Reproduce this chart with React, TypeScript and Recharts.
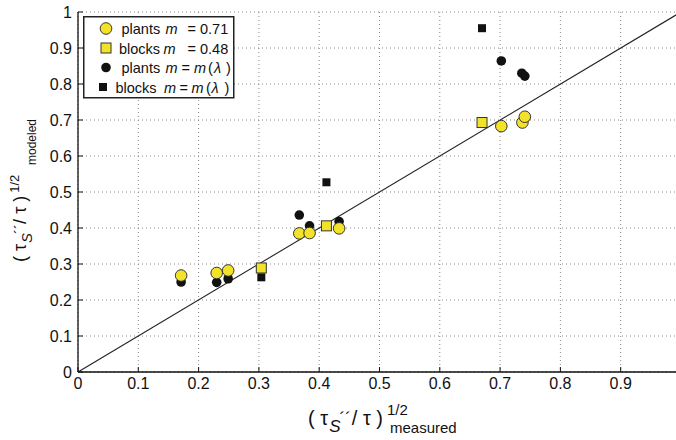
import React from "react";
import {
  ScatterChart, Scatter, XAxis, YAxis, CartesianGrid,
  ReferenceLine, Legend,
} from "recharts";

// values
const plantsFixedX = [0.171, 0.23, 0.249, 0.367, 0.384, 0.433, 0.702, 0.737, 0.741];
const plantsFixedY = [0.268, 0.275, 0.282, 0.385, 0.386, 0.399, 0.683, 0.693, 0.709];
const blocksFixedX = [0.304, 0.412, 0.67];
const blocksFixedY = [0.289, 0.406, 0.693];
const plantsLamX = [0.171, 0.23, 0.249, 0.367, 0.384, 0.433, 0.702, 0.736, 0.741];
const plantsLamY = [0.25, 0.249, 0.259, 0.436, 0.406, 0.418, 0.864, 0.83, 0.822];
const blocksLamX = [0.304, 0.412, 0.67];
const blocksLamY = [0.263, 0.527, 0.955];

const xTicks = [0, 0.1, 0.2, 0.3, 0.4, 0.5, 0.6, 0.7, 0.8, 0.9, 1];
const yTicks = [0, 0.1, 0.2, 0.3, 0.4, 0.5, 0.6, 0.7, 0.8, 0.9, 1];

const FONT = "'Liberation Sans', Arial, sans-serif";
const YELLOW = "#f2e32a";
const INK = "#111";

const zip = (xs: number[], ys: number[]) => xs.map((x, i) => ({ x, y: ys[i] }));

const yellowCircle = (p: any) => (
  <circle cx={p.cx} cy={p.cy} r={5.8} fill={YELLOW} stroke="#333" strokeWidth={1} />
);
const yellowSquare = (p: any) => (
  <rect x={p.cx - 5} y={p.cy - 5} width={10} height={10} fill={YELLOW} stroke="#333" strokeWidth={1} />
);
const blackCircle = (p: any) => <circle cx={p.cx} cy={p.cy} r={4.8} fill={INK} />;
const blackSquare = (p: any) => <rect x={p.cx - 4} y={p.cy - 4} width={8} height={8} fill={INK} />;

function LegendBox() {
  const t = { fontSize: 14.5, fill: INK, fontFamily: FONT };
  return (
    <svg width={152} height={83} style={{ display: "block" }}>
      <rect x={0.75} y={0.75} width={150} height={81} fill="#fff" stroke="#222" strokeWidth={1.5} />
      <circle cx={23} cy={12.5} r={5.8} fill={YELLOW} stroke="#333" />
      <text {...t} y={18}>
        <tspan x={38.5}>plants</tspan>
        <tspan x={82.5} fontStyle="italic">m</tspan>
        <tspan x={104.5}>= 0.71</tspan>
      </text>
      <rect x={18} y={27} width={10} height={10} fill={YELLOW} stroke="#333" />
      <text {...t} y={37.5}>
        <tspan x={36}>blocks</tspan>
        <tspan x={80.5} fontStyle="italic">m</tspan>
        <tspan x={104.5}>= 0.48</tspan>
      </text>
      <circle cx={23} cy={51.5} r={4.8} fill={INK} />
      <text {...t} y={57}>
        <tspan x={38.5}>plants</tspan>
        <tspan x={82.5} fontStyle="italic">m</tspan>
        <tspan x={98.5}>=</tspan>
        <tspan x={111} fontStyle="italic">m</tspan>
        <tspan x={125}>(</tspan>
        <tspan x={131} fontStyle="italic">λ</tspan>
        <tspan x={143}>)</tspan>
      </text>
      <rect x={16} y={67} width={8} height={8} fill={INK} />
      <text {...t} y={76.5}>
        <tspan x={32.5}>blocks</tspan>
        <tspan x={81} fontStyle="italic">m</tspan>
        <tspan x={96.5}>=</tspan>
        <tspan x={108.5} fontStyle="italic">m</tspan>
        <tspan x={123}>(</tspan>
        <tspan x={128.5} fontStyle="italic">λ</tspan>
        <tspan x={141.5}>)</tspan>
      </text>
    </svg>
  );
}

function XLabel() {
  return (
    <text x={308} y={425} fontSize={20} fontFamily={FONT} fill={INK}>
      ( τ
      <tspan fontSize={17} fontStyle="italic" dy={7} dx={1}>S</tspan>
      <tspan fontSize={17} dy={-8} dx={-1}>´´</tspan>
      <tspan fontSize={20} dy={1} dx={1}>/ τ )</tspan>
      <tspan fontSize={15} dy={-10} dx={4}>1/2</tspan>
      <tspan x={390} dy={18} fontSize={15}>measured</tspan>
    </text>
  );
}

function YLabel() {
  return (
    <g transform="translate(26,262) rotate(-90)">
      <text x={0} y={0} fontSize={18} fontFamily={FONT} fill={INK}>
        ( τ
        <tspan fontSize={15} fontStyle="italic" dy={6} dx={1}>S</tspan>
        <tspan fontSize={15} dy={-7} dx={-1}>´´</tspan>
        <tspan fontSize={18} dy={1}>/ τ )</tspan>
        <tspan fontSize={13} dy={-7} dx={3}>1/2</tspan>
        <tspan x={97} dy={17} fontSize={12}>modeled</tspan>
      </text>
    </g>
  );
}

export default function App() {
  const tick = { fontSize: 16, fill: INK, fontFamily: FONT };
  const axisLine = { stroke: "#111", strokeWidth: 1.3 };
  return (
    <div style={{ position: "absolute", left: 0, top: 0, width: 676, height: 440, overflow: "hidden", background: "#fff" }}>
      <ScatterChart width={690} height={440} margin={{ top: 12, right: 9, left: 0, bottom: 0 }} style={{ fontFamily: FONT }}>
        <CartesianGrid xAxisId="b" yAxisId="l" stroke="#888" strokeDasharray="1 3" />
        <XAxis
          xAxisId="b" type="number" dataKey="x" domain={[0, 1]} ticks={xTicks}
          height={68} tickSize={-5} tickMargin={11} tick={tick}
          tickFormatter={(v: number) => (v === 1 ? "" : String(v))}
          axisLine={axisLine} tickLine={{ stroke: "#111" }}
          label={{ content: () => <XLabel /> }}
        />
        <XAxis
          xAxisId="t" orientation="top" type="number" dataKey="x" domain={[0, 1]} ticks={xTicks}
          height={0} tickSize={-5} tick={false as any} axisLine={axisLine} tickLine={{ stroke: "#111" }}
        />
        <YAxis
          yAxisId="l" type="number" dataKey="y" domain={[0, 1]} ticks={yTicks}
          width={78} tickSize={-5} tickMargin={11} tick={tick}
          axisLine={axisLine} tickLine={{ stroke: "#111" }}
          label={{ content: () => <YLabel /> }}
        />
        <YAxis
          yAxisId="r" orientation="right" type="number" dataKey="y" domain={[0, 1]} ticks={yTicks}
          width={0} tickSize={-5} tick={false as any} axisLine={axisLine} tickLine={{ stroke: "#111" }}
        />
        <ReferenceLine
          xAxisId="b" yAxisId="l"
          segment={[{ x: 0, y: 0 }, { x: 1, y: 1 }]}
          stroke="#222" strokeWidth={1.1}
        />
        <Scatter xAxisId="b" yAxisId="l" data={zip(plantsLamX, plantsLamY)} shape={blackCircle} isAnimationActive={false} />
        <Scatter xAxisId="b" yAxisId="l" data={zip(blocksLamX, blocksLamY)} shape={blackSquare} isAnimationActive={false} />
        <Scatter xAxisId="b" yAxisId="l" data={zip(plantsFixedX, plantsFixedY)} shape={yellowCircle} isAnimationActive={false} />
        <Scatter xAxisId="b" yAxisId="l" data={zip(blocksFixedX, blocksFixedY)} shape={yellowSquare} isAnimationActive={false} />
        <Legend
          layout="vertical" align="center" verticalAlign="middle"
          content={() => <LegendBox />}
          wrapperStyle={{ position: "absolute", left: 83, top: 16, width: 152, height: 83 }}
        />
      </ScatterChart>
    </div>
  );
}
